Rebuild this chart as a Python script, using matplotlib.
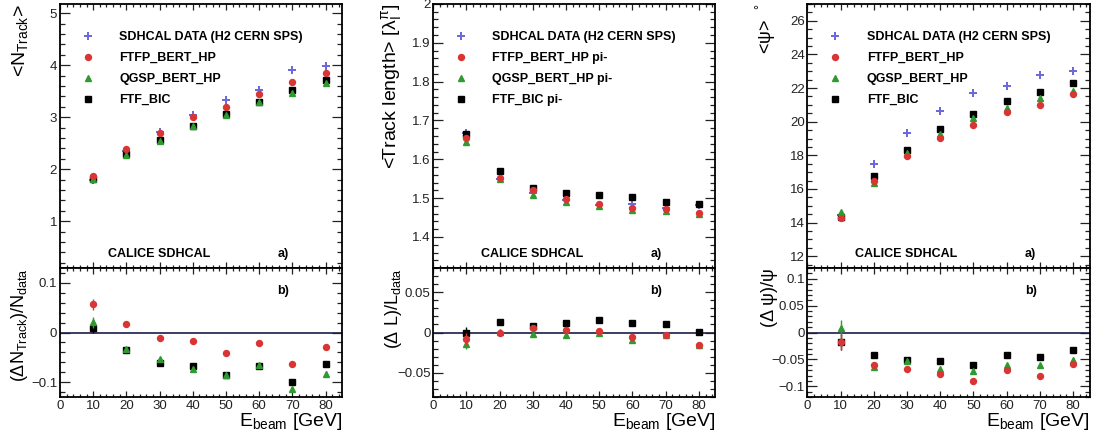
import matplotlib
matplotlib.use("Agg")
import matplotlib.pyplot as plt
from matplotlib.ticker import MultipleLocator, FuncFormatter

plt.rcParams['font.family'] = ['Liberation Sans', 'DejaVu Sans']
plt.rcParams['mathtext.fontset'] = 'custom'
plt.rcParams['mathtext.rm'] = 'Liberation Sans'
plt.rcParams['mathtext.it'] = 'Liberation Sans:italic'
plt.rcParams['mathtext.default'] = 'regular'

energy = [10, 20, 30, 40, 50, 60, 70, 80]
labels = ['SDHCAL DATA (H2 CERN SPS)', 'FTFP_BERT_HP', 'QGSP_BERT_HP', 'FTF_BIC']
labels_len = ['SDHCAL DATA (H2 CERN SPS)', 'FTFP_BERT_HP pi-', 'QGSP_BERT_HP pi-', 'FTF_BIC pi-']

# mean number of tracks
ntrack_data = [1.79, 2.35, 2.72, 3.05, 3.34, 3.52, 3.91, 3.98]
ntrack_ftfp = [1.87, 2.39, 2.69, 3.00, 3.20, 3.45, 3.67, 3.86]
ntrack_qgsp = [1.82, 2.27, 2.55, 2.83, 3.05, 3.29, 3.47, 3.65]
ntrack_ftf = [1.81, 2.29, 2.56, 2.84, 3.06, 3.29, 3.52, 3.72]
rntrack_ftfp = [0.057, 0.017, -0.012, -0.018, -0.042, -0.022, -0.063, -0.029]
rntrack_qgsp = [0.021, -0.033, -0.054, -0.073, -0.085, -0.065, -0.113, -0.083]
rntrack_ftf = [0.010, -0.035, -0.062, -0.068, -0.086, -0.067, -0.099, -0.063]
rntrack_err = [0.011, 0.004, 0.003, 0.003, 0.003, 0.004, 0.003, 0.005]

# mean track length
tlen_data = [1.669, 1.550, 1.513, 1.495, 1.483, 1.484, 1.475, 1.482]
tlen_ftfp = [1.654, 1.551, 1.522, 1.498, 1.486, 1.475, 1.472, 1.461]
tlen_qgsp = [1.644, 1.550, 1.509, 1.490, 1.481, 1.470, 1.468, 1.458]
tlen_ftf = [1.666, 1.571, 1.525, 1.512, 1.507, 1.502, 1.490, 1.485]
rtlen_ftfp = [-0.008, 0.000, 0.006, 0.003, 0.002, -0.006, -0.003, -0.015]
rtlen_qgsp = [-0.014, 0.001, -0.002, -0.003, 0.000, -0.009, -0.003, -0.016]
rtlen_ftf = [0.000, 0.013, 0.008, 0.012, 0.016, 0.012, 0.010, 0.001]
rtlen_err = [0.007, 0.003, 0.002, 0.002, 0.002, 0.002, 0.002, 0.002]

# mean angle psi
psi_data = [14.43, 17.46, 19.30, 20.64, 21.73, 22.12, 22.80, 23.01]
psi_ftfp = [14.25, 16.45, 17.99, 19.06, 19.81, 20.60, 21.00, 21.65]
psi_qgsp = [14.63, 16.37, 18.11, 19.26, 20.20, 20.82, 21.41, 21.83]
psi_ftf = [14.33, 16.77, 18.31, 19.55, 20.46, 21.23, 21.77, 22.30]
rpsi_ftfp = [-0.018, -0.060, -0.067, -0.077, -0.090, -0.069, -0.080, -0.059]
rpsi_qgsp = [0.008, -0.064, -0.053, -0.068, -0.072, -0.060, -0.061, -0.052]
rpsi_ftf = [-0.017, -0.041, -0.051, -0.053, -0.060, -0.041, -0.046, -0.032]
rpsi_err = [0.015, 0.005, 0.004, 0.004, 0.004, 0.004, 0.003, 0.004]

c_data = '#6a6ad8'
c_ftfp = '#d93535'
c_qgsp = '#2f9a2f'
c_ftf = '#000000'

fmt = FuncFormatter(lambda v, pos: '{:g}'.format(round(v, 6)).replace('-', '\u2212'))


def style(ax, xmaj_len, ymaj_len):
    for s in ax.spines.values():
        s.set_linewidth(1.3)
    ax.tick_params(which='both', direction='in', top=True, right=True,
                   width=0.9, labelsize=9.5, colors='#222222', pad=2)
    ax.tick_params(axis='x', which='major', length=xmaj_len)
    ax.tick_params(axis='x', which='minor', length=xmaj_len / 2)
    ax.tick_params(axis='y', which='major', length=ymaj_len)
    ax.tick_params(axis='y', which='minor', length=ymaj_len / 2)
    ax.set_xlim(0, 85)
    ax.xaxis.set_major_locator(MultipleLocator(10))
    ax.xaxis.set_minor_locator(MultipleLocator(2))
    ax.yaxis.set_major_formatter(fmt)


fig = plt.figure(figsize=(10.94, 4.38), dpi=100)

panels = [
    dict(left=0.0548, top=(ntrack_data, ntrack_ftfp, ntrack_qgsp, ntrack_ftf),
         ratio=(rntrack_ftfp, rntrack_qgsp, rntrack_ftf), err=rntrack_err,
         ylim=(0.1, 5.18), ymaj=1, ymin=0.2, rlim=(-0.13, 0.13), rmaj=0.1, rmin=0.02,
         ylabel=r'<N$_{\mathrm{Track}}$>', rlabel=r'($\Delta$N$_{\mathrm{Track}}$)/N$_{\mathrm{data}}$',
         labels=labels, ysize=14),
    dict(left=0.396, top=(tlen_data, tlen_ftfp, tlen_qgsp, tlen_ftf),
         ratio=(rtlen_ftfp, rtlen_qgsp, rtlen_ftf), err=rtlen_err,
         ylim=(1.32, 2.0), ymaj=0.1, ymin=0.02, rlim=(-0.08, 0.08), rmaj=0.05, rmin=0.01,
         ylabel=r'<Track length> [$\lambda_{I}^{\pi}$]', rlabel=r'($\Delta$ L)/L$_{\mathrm{data}}$',
         labels=labels_len, ysize=14),
    dict(left=0.738, top=(psi_data, psi_ftfp, psi_qgsp, psi_ftf),
         ratio=(rpsi_ftfp, rpsi_qgsp, rpsi_ftf), err=rpsi_err,
         ylim=(11.3, 27.0), ymaj=2, ymin=0.5, rlim=(-0.12, 0.12), rmaj=0.05, rmin=0.01,
         ylabel='<ψ>  $^{°}$', rlabel='(Δ ψ)/ψ',
         labels=labels, ysize=13),
]

width = 0.258
for p in panels:
    ax = fig.add_axes([p['left'], 0.388, width, 0.603])
    rx = fig.add_axes([p['left'], 0.0936, width, 0.2945])
    style(ax, 4.5, 7.2)
    style(rx, 4.5, 7.2)

    d, f1, q1, b1 = p['top']
    ax.plot(energy, d, 'P', color=c_data, ms=5.8, mew=0, zorder=3, label=p['labels'][0])
    ax.plot(energy, b1, 's', color=c_ftf, ms=4.3, zorder=4, label=p['labels'][3])
    ax.plot(energy, q1, '^', color=c_qgsp, ms=4.3, zorder=5, label=p['labels'][2])
    ax.plot(energy, f1, 'o', color=c_ftfp, ms=4.3, zorder=6, label=p['labels'][1])
    h, l = ax.get_legend_handles_labels()
    ax.legend([h[0], h[3], h[2], h[1]], [l[0], l[3], l[2], l[1]],
              loc='upper left', bbox_to_anchor=(0.055, 0.897), frameon=False,
              prop=dict(weight='bold', size=9), handlelength=2, handletextpad=1.5,
              labelspacing=0.72, borderpad=0, borderaxespad=0, numpoints=1)
    ax.set_ylim(*p['ylim'])
    ax.yaxis.set_major_locator(MultipleLocator(p['ymaj']))
    ax.yaxis.set_minor_locator(MultipleLocator(p['ymin']))
    ax.tick_params(axis='x', labelbottom=False)
    ax.set_ylabel(p['ylabel'], loc='top', fontsize=p['ysize'])
    ax.yaxis.set_label_coords(-0.105, 1.0)
    ax.text(0.17, 0.055, 'CALICE SDHCAL', transform=ax.transAxes, fontsize=9,
            fontweight='bold', va='center')
    ax.text(0.77, 0.055, 'a)', transform=ax.transAxes, fontsize=9,
            fontweight='bold', va='center')

    rf, rq, rb = p['ratio']
    rx.axhline(0, color='#1c1c4a', lw=1.2, zorder=1)
    rx.errorbar(energy, rb, yerr=p['err'], fmt='s', color=c_ftf, ms=4.3,
                elinewidth=1, capsize=0, zorder=4)
    rx.errorbar(energy, rq, yerr=p['err'], fmt='^', color=c_qgsp, ms=4.3,
                elinewidth=1, capsize=0, zorder=5)
    rx.errorbar(energy, rf, yerr=p['err'], fmt='o', color=c_ftfp, ms=4.3,
                elinewidth=1, capsize=0, zorder=6)
    rx.set_ylim(*p['rlim'])
    rx.yaxis.set_major_locator(MultipleLocator(p['rmaj']))
    rx.yaxis.set_minor_locator(MultipleLocator(p['rmin']))
    rx.set_ylabel(p['rlabel'], loc='top', fontsize=13)
    rx.yaxis.set_label_coords(-0.105, 1.0)
    rx.set_xlabel(r'E$_{\mathrm{beam}}$ [GeV]', loc='right', fontsize=14)
    rx.xaxis.set_label_coords(1.0, -0.11)
    rx.text(0.77, 0.82, 'b)', transform=rx.transAxes, fontsize=9,
            fontweight='bold', va='center')

fig.savefig('out.png', dpi=100)
